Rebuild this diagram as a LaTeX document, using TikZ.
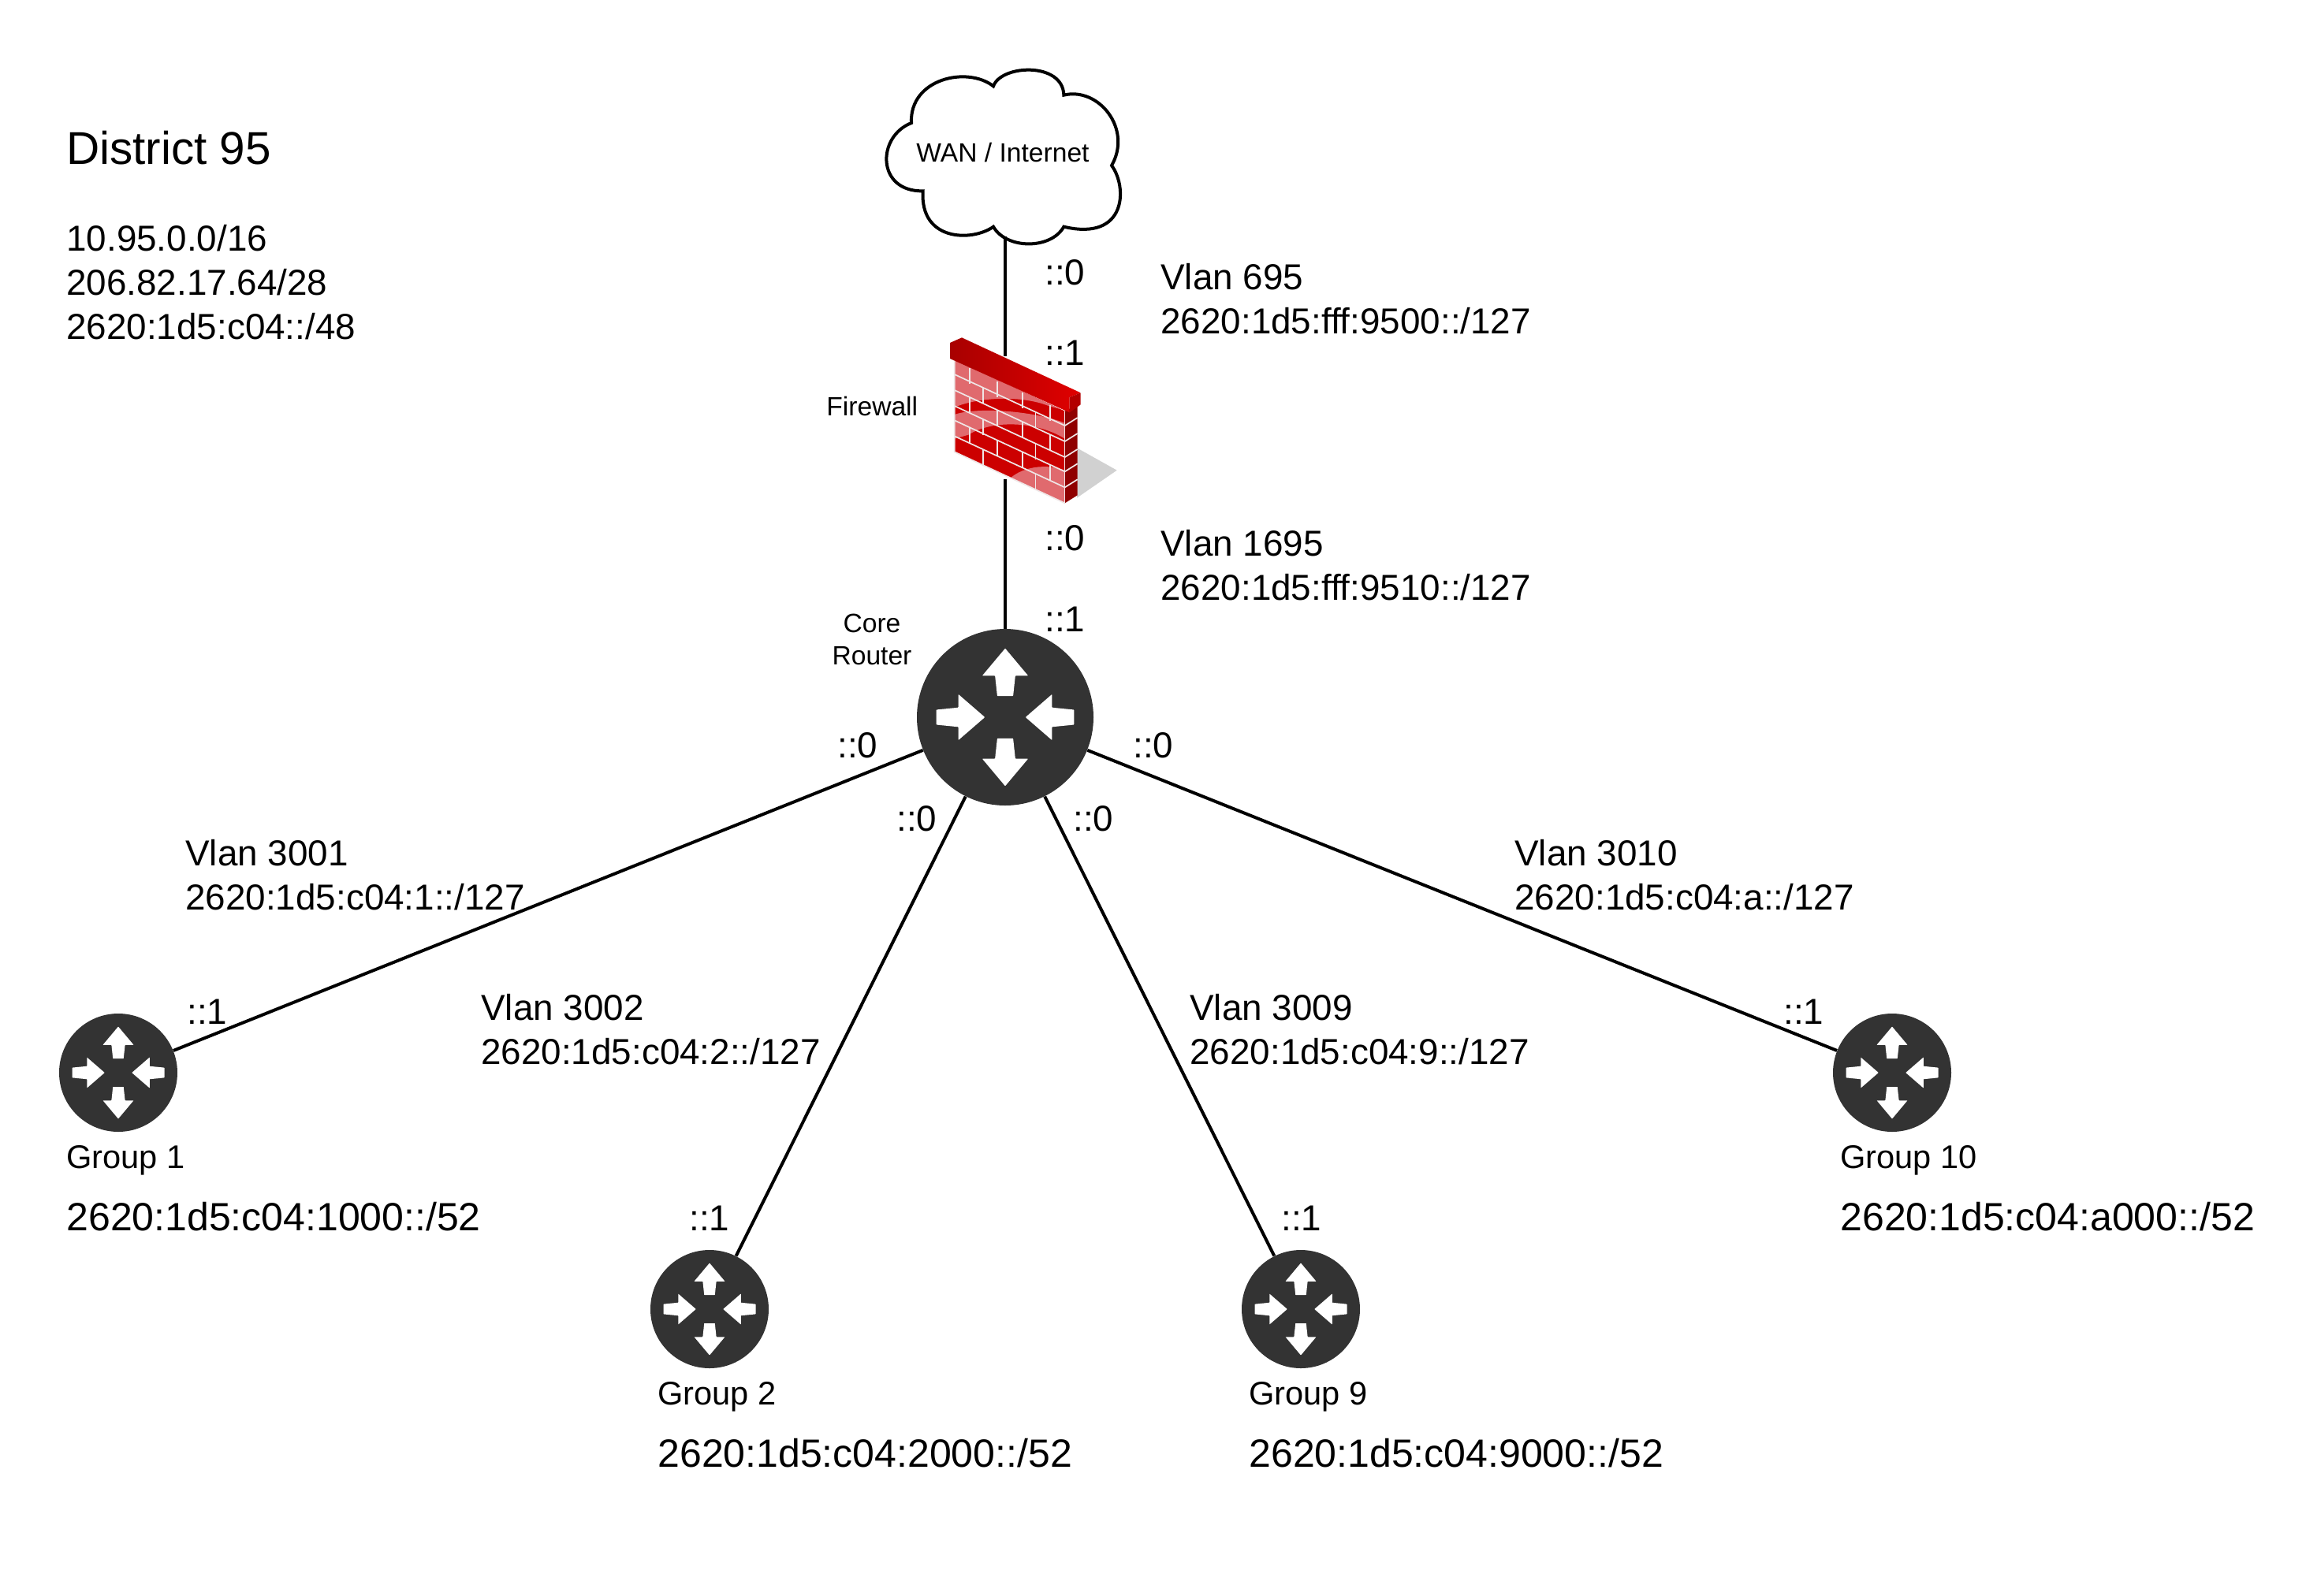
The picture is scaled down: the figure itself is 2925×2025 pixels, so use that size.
\documentclass[tikz,border=0pt]{standalone}
\usepackage{fontspec}
\setmainfont{Liberation Sans}
\definecolor{routerdark}{HTML}{333333}
\definecolor{brickred}{HTML}{CC0000}
\definecolor{brickpale}{HTML}{E06A6E}
\definecolor{capdark}{HTML}{A80000}
\definecolor{capbright}{HTML}{E00000}
\definecolor{mortar}{HTML}{EFE6E6}
\newcommand{\fsz}[2]{\fontsize{#1}{#2}\selectfont}
\tikzset{
  link/.style={line width=2pt,black},
  lbl/.style={inner sep=0pt,anchor=west,align=left,font=\fsz{22.9}{28}},
  sublbl/.style={inner sep=0pt,anchor=west,font=\fsz{25}{30}},
  grouplbl/.style={inner sep=0pt,anchor=west,font=\fsz{20.8}{25}},
  smalllbl/.style={inner sep=0pt,font=\fsz{16.8}{20.5},align=center},
  corerouter/.style={circle,fill=routerdark,inner sep=0pt,minimum size=112pt},
  edgerouter/.style={circle,fill=routerdark,inner sep=0pt,minimum size=75pt},
  pics/routerarrows/.style={code={
    \foreach \a in {90,270}
      \fill[white,rounded corners=#1*0.07pt,rotate=\a]
        (.24,-.09)--(.47,-.115)--(.47,-.26)--(.78,0)--(.47,.26)--(.47,.115)--(.24,.09)--cycle;
    \foreach \a in {0,180}
      \fill[white,rounded corners=#1*0.07pt,rotate=\a]
        (.78,-.085)--(.53,-.11)--(.53,-.26)--(.23,0)--(.53,.26)--(.53,.11)--(.78,.085)--cycle;
  }}
}
\begin{document}
\begin{tikzpicture}[x=.5pt,y=-.5pt]
\useasboundingbox (0,0) rectangle (2925,2025);
% cloud
\begin{scope}[shift={(1100,60)},x=.16667pt,y=-.16667pt]
\draw[line width=2pt,fill=white,line join=miter]
  (480,148) .. controls (510,65) and (745,55) .. (748,182)
  .. controls (880,150) and (1010,310) .. (930,450)
  .. controls (990,530) and (990,740) .. (748,683)
  .. controls (700,770) and (530,770) .. (480,683)
  .. controls (400,740) and (200,740) .. (212,547)
  .. controls (35,550) and (35,340) .. (168,288)
  .. controls (160,120) and (380,70) .. (480,148) -- cycle;
\end{scope}
\node[inner sep=0pt,font=\fsz{16.8}{20}] (wan) at (1272,193) {WAN / Internet};
\coordinate (cloudb) at (1275,300);
% nodes
\node[inner sep=0pt,minimum width=10pt,minimum height=78pt] (fw) at (1275,530) {};
\node[corerouter] (core) at (1275,910) {};
\node[edgerouter] (g1) at (150,1361) {};
\node[edgerouter] (g2) at (900,1661) {};
\node[edgerouter] (g9) at (1650,1661) {};
\node[edgerouter] (g10) at (2400,1361) {};
\pic[scale=112] at (core) {routerarrows=5};
\pic[scale=75] at (g1) {routerarrows=3.4};
\pic[scale=75] at (g2) {routerarrows=3.4};
\pic[scale=75] at (g9) {routerarrows=3.4};
\pic[scale=75] at (g10) {routerarrows=3.4};
% connectors
\draw[link] (cloudb) -- (fw.north);
\draw[link] (fw.south) -- (core);
\draw[link] (core) -- (g1);
\draw[link] (core) -- (g2);
\draw[link] (core) -- (g9);
\draw[link] (core) -- (g10);
% firewall
\begin{scope}[shift={(1150,400)},x=.16667pt,y=-.16667pt]
\fill[black!18] (648,505) -- (800,590) -- (648,695) -- cycle;
\fill[brickred] (182,170) -- (602,365) -- (602,715) -- (182,520) -- cycle;
\begin{scope}
\clip (182,170) -- (602,365) -- (602,715) -- (182,520) -- cycle;
\fill[brickpale] (182,160) -- (602,350) -- (602,362) -- (540,345) .. controls (440,305) and (280,310) .. (182,350) -- cycle;
\fill[brickpale] (182,378) .. controls (260,350) and (470,360) .. (602,410) -- (602,470)
   .. controls (500,405) and (330,395) .. (235,455) -- (182,470) -- cycle;
\fill[brickpale] (375,640) .. controls (430,570) and (540,565) .. (602,590) -- (602,715) -- (490,665) -- cycle;
\end{scope}
\fill[capdark!85!black] (602,365) -- (650,340) -- (650,685) -- (602,715) -- cycle;
\foreach \yl in {225,285,345,400,460}
  \draw[mortar,line width=.85pt] (182,\yl) -- (602,{\yl+195}) -- (650,{\yl+165});
\draw[mortar,line width=.85pt] (182,170) -- (182,520) -- (602,715);
\draw[mortar,line width=.6pt] (602,365) -- (602,715);
\foreach \xt/\yl in {240/175,345/175,440/175,545/175,290/225,490/225,240/285,345/285,440/285,545/285,
                     290/345,490/345,240/400,345/400,440/400,545/400,290/460,490/460}
  \draw[mortar,line width=.85pt] (\xt,{\yl+.464*(\xt-182)}) -- (\xt,{\yl+60+.464*(\xt-182)});
\shade[left color=capdark,right color=capbright] (165,105) -- (210,85) -- (662,295) -- (620,312) -- (620,370) -- (165,165) -- cycle;
\fill[capbright!80!black] (620,312) -- (662,295) -- (662,340) -- (620,370) -- cycle;
\end{scope}
% labels
\node[inner sep=0pt,anchor=west,font=\fsz{29.2}{35}] (title) at (84,188) {District 95};
\node[lbl] (nets) at (84,358.5) {10.95.0.0/16\\206.82.17.64/28\\2620:1d5:c04::/48};
\node[smalllbl,anchor=west] (fwl) at (1048,515) {Firewall};
\node[smalllbl] (corel) at (1106,811) {Core\\Router};
\node[lbl] (a1) at (1325,346) {::0};
\node[lbl] (a2) at (1325,448) {::1};
\node[lbl] (a3) at (1325,683) {::0};
\node[lbl] (a4) at (1325,786) {::1};
\node[lbl] (a5) at (1062,946) {::0};
\node[lbl] (a6) at (1137,1039) {::0};
\node[lbl] (a7) at (1361,1039) {::0};
\node[lbl] (a8) at (1437,946) {::0};
\node[lbl] (b1) at (237,1284) {::1};
\node[lbl] (b2) at (874,1546) {::1};
\node[lbl] (b3) at (1625,1546) {::1};
\node[lbl] (b4) at (2262,1284) {::1};
\node[lbl] (v695) at (1472,379) {Vlan 695\\2620:1d5:fff:9500::/127};
\node[lbl] (v1695) at (1472,717) {Vlan 1695\\2620:1d5:fff:9510::/127};
\node[lbl] (v3001) at (235,1110) {Vlan 3001\\2620:1d5:c04:1::/127};
\node[lbl] (v3002) at (610,1306) {Vlan 3002\\2620:1d5:c04:2::/127};
\node[lbl] (v3009) at (1509,1306) {Vlan 3009\\2620:1d5:c04:9::/127};
\node[lbl] (v3010) at (1921,1110) {Vlan 3010\\2620:1d5:c04:a::/127};
\node[grouplbl] (t1) at (84,1472) {Group 1};
\node[grouplbl] (t2) at (834,1772) {Group 2};
\node[grouplbl] (t9) at (1584,1772) {Group 9};
\node[grouplbl] (t10) at (2334,1472) {Group 10};
\node[sublbl] (s1) at (84,1544) {2620:1d5:c04:1000::/52};
\node[sublbl] (s2) at (834,1844) {2620:1d5:c04:2000::/52};
\node[sublbl] (s9) at (1584,1844) {2620:1d5:c04:9000::/52};
\node[sublbl] (s10) at (2334,1544) {2620:1d5:c04:a000::/52};
\end{tikzpicture}
\end{document}
